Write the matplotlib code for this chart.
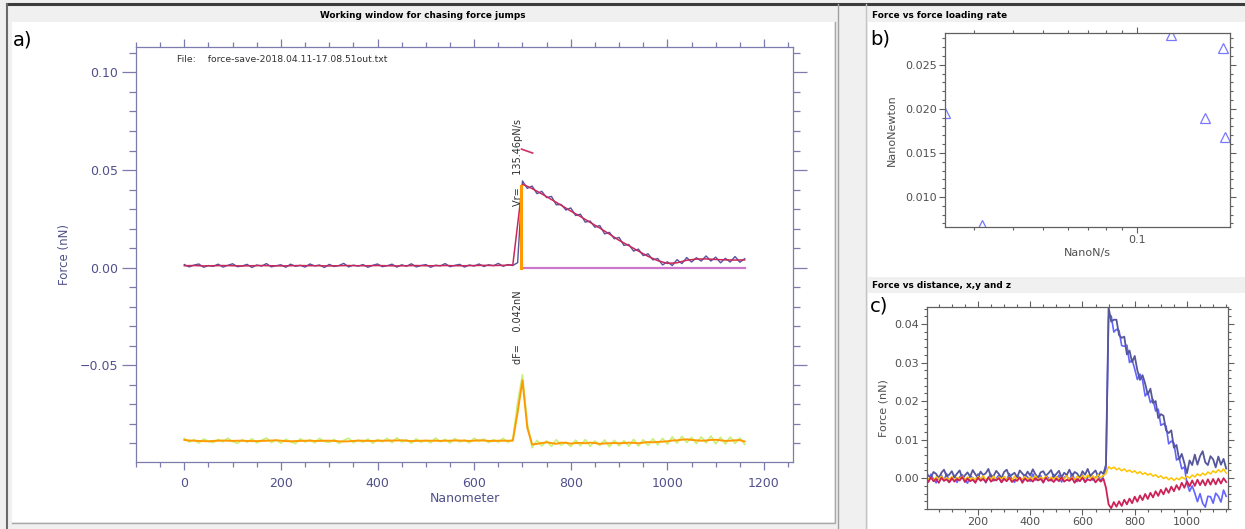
import matplotlib
matplotlib.use("Agg")
import matplotlib.pyplot as plt
from matplotlib.patches import Rectangle
from matplotlib.ticker import MultipleLocator, FuncFormatter, LogLocator, NullFormatter, FixedLocator, FixedFormatter

# ---- panel a) data: force jump window ----
x_a = list(range(0, 1170, 10))
force_raw = [
    0.0016, 0.0004, 0.0013, 0.0019, 0.0002, 0.0011, 0.0007, 0.0018, 0.0003, 0.0012,
    0.0020, 0.0005, 0.0009, 0.0017, 0.0001, 0.0014, 0.0008, 0.0021, 0.0004, 0.0010,
    0.0015, 0.0002, 0.0018, 0.0007, 0.0012, 0.0003, 0.0019, 0.0009, 0.0014, 0.0001,
    0.0017, 0.0006, 0.0011, 0.0022, 0.0004, 0.0013, 0.0008, 0.0016, 0.0002, 0.0012,
    0.0019, 0.0005, 0.0010, 0.0018, 0.0003, 0.0015, 0.0007, 0.0020, 0.0004, 0.0011,
    0.0016, 0.0002, 0.0013, 0.0009, 0.0021, 0.0005, 0.0012, 0.0017, 0.0003, 0.0014,
    0.0008, 0.0019, 0.0006, 0.0015, 0.0010, 0.0022, 0.0007, 0.0016, 0.0011, 0.0026,
    0.0444, 0.0406, 0.0418, 0.0379, 0.0391, 0.0359, 0.0365, 0.0322, 0.0324, 0.0295,
    0.0306, 0.0267, 0.0274, 0.0233, 0.0239, 0.0207, 0.0216, 0.0173, 0.0181, 0.0148,
    0.0155, 0.0114, 0.0119, 0.0085, 0.0095, 0.0062, 0.0071, 0.0040, 0.0047, 0.0014,
    0.0030, 0.0011, 0.0041, 0.0021, 0.0052, 0.0029, 0.0051, 0.0034, 0.0060, 0.0034,
    0.0054, 0.0025, 0.0048, 0.0029, 0.0057, 0.0028, 0.0046]

x_smooth = list(range(0, 1170, 20))
force_smooth = [
    0.0010, 0.0011, 0.0009, 0.0010, 0.0011, 0.0010, 0.0009, 0.0010, 0.0011, 0.0010,
    0.0009, 0.0010, 0.0011, 0.0010, 0.0010, 0.0009, 0.0010, 0.0011, 0.0010, 0.0010,
    0.0011, 0.0010, 0.0009, 0.0010, 0.0011, 0.0010, 0.0010, 0.0011, 0.0010, 0.0010,
    0.0011, 0.0012, 0.0011, 0.0012, 0.0014,
    0.0428, 0.0405, 0.0378, 0.0349, 0.0320, 0.0290, 0.0262, 0.0232, 0.0203, 0.0172,
    0.0140, 0.0113, 0.0085, 0.0058, 0.0036, 0.0022, 0.0025, 0.0038, 0.0044, 0.0045,
    0.0042, 0.0040, 0.0039, 0.0040]

dforce_smooth = [
    -0.0882, -0.0885, -0.0886, -0.0887, -0.0888, -0.0889, -0.0887, -0.0886, -0.0885, -0.0886,
    -0.0887, -0.0886, -0.0886, -0.0887, -0.0888, -0.0888, -0.0887, -0.0886, -0.0885, -0.0884,
    -0.0886, -0.0888, -0.0889, -0.0888, -0.0887, -0.0886, -0.0886, -0.0887, -0.0887, -0.0886,
    -0.0886, -0.0887, -0.0889, -0.0890, -0.0889, -0.0887, -0.0886, -0.0886, -0.0887, -0.0887,
    -0.0886, -0.0886, -0.0886, -0.0885, -0.0885, -0.0884, -0.0886, -0.0888, -0.0887, -0.0886,
    -0.0886, -0.0886, -0.0886, -0.0887, -0.0886, -0.0886, -0.0885, -0.0885, -0.0886, -0.0887,
    -0.0886, -0.0884, -0.0885, -0.0887, -0.0887, -0.0886, -0.0886, -0.0886,
    -0.0886, -0.0740, -0.0577, -0.0820, -0.0905,
    -0.0902, -0.0898, -0.0894, -0.0898, -0.0902, -0.0896, -0.0897, -0.0901, -0.0898, -0.0897,
    -0.0899, -0.0896, -0.0898, -0.0902, -0.0900, -0.0899, -0.0898, -0.0899, -0.0898, -0.0896,
    -0.0897, -0.0899, -0.0896, -0.0893, -0.0894, -0.0892, -0.0891, -0.0889, -0.0885, -0.0884,
    -0.0881, -0.0879, -0.0882, -0.0884, -0.0886, -0.0885, -0.0882, -0.0881, -0.0884, -0.0887,
    -0.0886, -0.0884, -0.0883, -0.0890]

dforce_raw = [
    -0.0874, -0.0893, -0.0880, -0.0898, -0.0877, -0.0889, -0.0896, -0.0879, -0.0892, -0.0873,
    -0.0890, -0.0899, -0.0881, -0.0894, -0.0876, -0.0897, -0.0884, -0.0872, -0.0895, -0.0882,
    -0.0899, -0.0878, -0.0891, -0.0901, -0.0876, -0.0893, -0.0881, -0.0897, -0.0874, -0.0890,
    -0.0895, -0.0879, -0.0900, -0.0884, -0.0873, -0.0896, -0.0882, -0.0894, -0.0877, -0.0899,
    -0.0880, -0.0892, -0.0874, -0.0896, -0.0871, -0.0893, -0.0881, -0.0899, -0.0876, -0.0894,
    -0.0883, -0.0897, -0.0872, -0.0891, -0.0879, -0.0898, -0.0875, -0.0893, -0.0882, -0.0897,
    -0.0873, -0.0890, -0.0877, -0.0896, -0.0880, -0.0894, -0.0874, -0.0895,
    -0.0878, -0.0690, -0.0548, -0.0795, -0.0922,
    -0.0884, -0.0913, -0.0887, -0.0915, -0.0881, -0.0909, -0.0893, -0.0916, -0.0883, -0.0912,
    -0.0880, -0.0915, -0.0887, -0.0911, -0.0882, -0.0917, -0.0884, -0.0912, -0.0886, -0.0914,
    -0.0879, -0.0913, -0.0881, -0.0910, -0.0876, -0.0907, -0.0874, -0.0904, -0.0866, -0.0898,
    -0.0864, -0.0895, -0.0869, -0.0901, -0.0866, -0.0897, -0.0862, -0.0902, -0.0868, -0.0903,
    -0.0867, -0.0899, -0.0872, -0.0905]

jump_x = 696
jump_df = 0.042
rate_seg_x = [698, 721]
rate_seg_y = [0.0607, 0.0587]
file_name = "force-save-2018.04.11-17.08.51out.txt"

# ---- panel b) data: force vs loading rate ----
rate = [0.0243, 0.0319, 0.129, 0.166, 0.189, 0.192]
force_peak = [0.0195, 0.0068, 0.0284, 0.0190, 0.0269, 0.0168]

# ---- panel c) data: force vs distance ----
x_c = list(range(0, 1160, 10))
f_total = [
    0.0019, 0.0006, 0.0003, 0.0016, 0.0011, -0.0001, 0.0014, 0.0022, 0.0005, 0.0009,
    0.0018, 0.0002, 0.0012, 0.0020, 0.0000, 0.0007, 0.0015, 0.0004, 0.0021, 0.0010,
    0.0001, 0.0017, 0.0008, 0.0013, 0.0024, 0.0003, 0.0006, 0.0019, 0.0011, 0.0000,
    0.0016, 0.0022, 0.0005, 0.0009, 0.0014, 0.0002, 0.0020, 0.0012, 0.0004, 0.0017,
    0.0007, 0.0023, 0.0010, 0.0001, 0.0015, 0.0018, 0.0006, 0.0013, 0.0021, 0.0003,
    0.0011, 0.0019, 0.0002, 0.0014, 0.0008, 0.0022, 0.0005, 0.0016, 0.0012, 0.0000,
    0.0018, 0.0009, 0.0024, 0.0006, 0.0013, 0.0020, 0.0004, 0.0017, 0.0011, 0.0035,
    0.0443, 0.0406, 0.0411, 0.0411, 0.0371, 0.0364, 0.0367, 0.0321, 0.0331, 0.0301,
    0.0317, 0.0280, 0.0255, 0.0267, 0.0245, 0.0217, 0.0232, 0.0195, 0.0200, 0.0156,
    0.0166, 0.0162, 0.0124, 0.0117, 0.0124, 0.0079, 0.0086, 0.0048, 0.0063, 0.0039,
    0.0013, 0.0046, 0.0034, 0.0061, 0.0035, 0.0057, 0.0070, 0.0041, 0.0034, 0.0057,
    0.0049, 0.0028, 0.0056, 0.0035, 0.0050, 0.0025]
f_x = [
    0.0006, -0.0009, 0.0010, -0.0003, -0.0012, 0.0004, 0.0008, -0.0006, 0.0012, -0.0010,
    -0.0002, 0.0007, -0.0011, 0.0003, 0.0009, -0.0005, -0.0013, 0.0006, 0.0001, -0.0008,
    0.0011, -0.0004, 0.0005, -0.0012, 0.0002, 0.0010, -0.0007, -0.0001, 0.0008, -0.0010,
    0.0004, -0.0006, 0.0012, -0.0003, -0.0011, 0.0006, 0.0000, -0.0009, 0.0009, 0.0003,
    -0.0008, 0.0011, -0.0005, -0.0002, 0.0007, -0.0012, 0.0005, 0.0001, -0.0007, 0.0010,
    -0.0004, 0.0008, -0.0010, 0.0002, 0.0006, -0.0006, 0.0012, -0.0003, -0.0009, 0.0004,
    0.0009, -0.0011, 0.0003, 0.0007, -0.0005, 0.0001, 0.0010, -0.0008, 0.0006, 0.0025,
    0.0417, 0.0421, 0.0379, 0.0386, 0.0383, 0.0344, 0.0342, 0.0345, 0.0300, 0.0307,
    0.0283, 0.0256, 0.0270, 0.0254, 0.0213, 0.0223, 0.0196, 0.0204, 0.0174, 0.0179,
    0.0137, 0.0141, 0.0135, 0.0089, 0.0096, 0.0091, 0.0047, 0.0053, 0.0024, 0.0029,
    -0.0014, -0.0034, -0.0020, -0.0039, -0.0061, -0.0040, -0.0065, -0.0075, -0.0047, -0.0048,
    -0.0065, -0.0039, -0.0047, -0.0062, -0.0031, -0.0047]
f_y = [
    0.0004, -0.0003, 0.0002, -0.0005, 0.0003, -0.0002, 0.0005, -0.0004, 0.0001, -0.0003,
    0.0004, -0.0006, 0.0002, -0.0002, 0.0005, -0.0004, 0.0003, -0.0003, 0.0001, -0.0005,
    0.0004, -0.0002, 0.0006, -0.0004, 0.0002, -0.0003, 0.0005, -0.0005, 0.0003, -0.0002,
    0.0004, -0.0004, 0.0002, -0.0006, 0.0005, -0.0003, 0.0001, -0.0002, 0.0004, -0.0005,
    0.0003, -0.0003, 0.0006, -0.0004, 0.0002, -0.0002, 0.0005, -0.0005, 0.0003, -0.0003,
    0.0004, -0.0004, 0.0002, -0.0002, 0.0006, -0.0005, 0.0003, -0.0003, 0.0005, -0.0002,
    0.0007, -0.0001, 0.0008, 0.0000, 0.0006, -0.0002, 0.0009, 0.0001, 0.0007, 0.0012,
    0.0030, 0.0024, 0.0029, 0.0022, 0.0026, 0.0019, 0.0024, 0.0017, 0.0021, 0.0015,
    0.0019, 0.0012, 0.0017, 0.0010, 0.0014, 0.0008, 0.0012, 0.0005, 0.0009, 0.0002,
    0.0006, -0.0001, 0.0003, -0.0004, 0.0001, -0.0006, 0.0000, -0.0004, 0.0003, -0.0002,
    0.0005, 0.0000, 0.0008, 0.0003, 0.0011, 0.0006, 0.0013, 0.0008, 0.0016, 0.0011,
    0.0019, 0.0014, 0.0022, 0.0016, 0.0024, 0.0013]
f_z = [
    -0.0001, -0.0010, 0.0002, -0.0008, -0.0002, -0.0012, 0.0001, -0.0007, -0.0003, -0.0011,
    0.0000, -0.0009, -0.0002, -0.0006, 0.0003, -0.0010, -0.0001, -0.0008, -0.0004, -0.0012,
    0.0001, -0.0007, -0.0002, -0.0010, 0.0002, -0.0009, -0.0003, -0.0006, 0.0000, -0.0011,
    -0.0002, -0.0008, 0.0001, -0.0010, -0.0004, -0.0007, 0.0002, -0.0012, -0.0001, -0.0008,
    -0.0003, -0.0009, 0.0000, -0.0006, -0.0002, -0.0011, 0.0001, -0.0007, -0.0003, -0.0010,
    -0.0001, -0.0008, 0.0002, -0.0009, -0.0004, -0.0007, 0.0000, -0.0012, -0.0002, -0.0008,
    0.0001, -0.0010, -0.0003, -0.0006, 0.0000, -0.0011, -0.0002, -0.0009, -0.0001, -0.0025,
    -0.0068, -0.0078, -0.0062, -0.0074, -0.0060, -0.0072, -0.0056, -0.0068, -0.0053, -0.0065,
    -0.0048, -0.0061, -0.0045, -0.0057, -0.0041, -0.0054, -0.0038, -0.0050, -0.0034, -0.0046,
    -0.0030, -0.0042, -0.0026, -0.0038, -0.0022, -0.0034, -0.0018, -0.0030, -0.0012, -0.0025,
    -0.0008, -0.0021, -0.0006, -0.0020, -0.0004, -0.0018, -0.0005, -0.0019, -0.0003, -0.0017,
    -0.0002, -0.0016, -0.0001, -0.0014, 0.0000, -0.0010]

W, H = 1245, 529
fig = plt.figure(figsize=(W / 100, H / 100), dpi=100, facecolor="#f0f0f0")


def box(l, t, r, b):
    # pixel box (left, top, right, bottom) -> figure fraction rect
    return [l / W, (H - b) / H, (r - l) / W, (b - t) / H]


# GUI frame drawn in pixel coordinates
bg = fig.add_axes([0, 0, 1, 1])
bg.set_xlim(0, W)
bg.set_ylim(H, 0)
bg.axis("off")
bg.add_patch(Rectangle((12, 22), 822, 500, facecolor="white", edgecolor="none"))
bg.add_patch(Rectangle((868, 22), 377, 255, facecolor="white", edgecolor="none"))
bg.add_patch(Rectangle((868, 293), 377, 236, facecolor="white", edgecolor="none"))
bg.plot([7, 1243], [4, 4], color="#3c3c3c", lw=2.2)
bg.plot([7, 7], [4, 529], color="#6a6a6a", lw=1.5)
bg.plot([12, 835, 835], [523, 523, 22], color="#a8a8a8", lw=1)
bg.plot([838, 838], [4, 529], color="#a0a0a0", lw=1)
bg.plot([866, 866], [4, 529], color="#c4c4c4", lw=1)
bg.text(423, 15, "Working window for chasing force jumps", fontsize=6.4, fontweight="bold",
        ha="center", va="center")
bg.text(872, 15, "Force vs force loading rate", fontsize=6.4, fontweight="bold", va="center")
bg.text(872, 286, "Force vs distance, x,y and z", fontsize=6.4, fontweight="bold", va="center")
bg.text(13, 40, "a)", fontsize=14, va="center")
bg.text(870, 39, "b)", fontsize=14, va="center")
bg.text(870, 306, "c)", fontsize=14, va="center")

minus = FuncFormatter(lambda v, p: ("%.2f" % v).replace("-", "\u2212"))

# ---- panel a ----
acol = "#7c7cac"
tcol = "#50508c"
ax = fig.add_axes(box(136, 47, 793, 462))
ax.plot(x_a, force_raw, color="#5454a0", lw=1.0)
ax.plot(x_smooth, force_smooth, color="#c8285a", lw=1.1)
ax.plot([jump_x, x_a[-1]], [0, 0], color="#cc77cc", lw=1.6)
ax.plot([jump_x, jump_x], [0, jump_df], color="#ff9900", lw=2.2)
ax.plot(rate_seg_x, rate_seg_y, color="#d03060", lw=1.2)
ax.plot(x_a, dforce_raw, color="#c4f27a", lw=1.2)
ax.plot(x_a, dforce_smooth, color="#ff9a00", lw=1.4)
ax.set_xlim(-100, 1260)
ax.set_ylim(-0.0995, 0.113)
ax.xaxis.set_major_locator(MultipleLocator(200))
ax.xaxis.set_minor_locator(MultipleLocator(50))
ax.yaxis.set_major_locator(MultipleLocator(0.05))
ax.yaxis.set_minor_locator(MultipleLocator(0.01))
ax.yaxis.set_major_formatter(minus)
ax.tick_params(which="both", direction="out", top=True, right=True, color=acol,
               labelcolor=tcol, labelsize=9, width=0.9)
ax.tick_params(axis="y", which="major", length=10, pad=3)
ax.tick_params(axis="y", which="minor", length=5)
ax.tick_params(axis="x", which="major", length=6, pad=5)
ax.tick_params(axis="x", which="minor", length=3.5)
for s in ax.spines.values():
    s.set_color(acol)
    s.set_linewidth(0.9)
ax.set_xlabel("Nanometer", color=tcol, fontsize=9, labelpad=1)
ax.set_ylabel("Force (nN)", color=tcol, fontsize=8.5, labelpad=6)
ax.text(-15, 0.1065, "File:    " + file_name, fontsize=6.7, color="#303030", va="center")
ax.text(690, 0.0318, "Vr=    135.46pN/s", rotation=90, fontsize=7, color="#303030",
        ha="center", va="bottom")
ax.text(690, -0.0495, "dF=    0.042nN", rotation=90, fontsize=7, color="#303030",
        ha="center", va="bottom")

# ---- panel b ----
gcol = "#606060"
bx = fig.add_axes(box(945, 33, 1230, 227))
bx.plot(rate, force_peak, ls="none", marker="^", mfc="none", mec="#7878ff", ms=7, mew=0.9)
bx.set_xscale("log")
bx.set_xlim(0.0243, 0.199)
bx.set_ylim(0.0066, 0.0286)
bx.xaxis.set_major_locator(FixedLocator([0.1]))
bx.xaxis.set_major_formatter(FixedFormatter(["0.1"]))
bx.xaxis.set_minor_locator(LogLocator(base=10, subs=range(2, 10)))
bx.xaxis.set_minor_formatter(NullFormatter())
bx.yaxis.set_major_locator(MultipleLocator(0.005))
bx.yaxis.set_minor_locator(MultipleLocator(0.001))
bx.yaxis.set_major_formatter(FuncFormatter(lambda v, p: "%.3f" % v))
bx.tick_params(which="both", direction="out", top=True, right=True, color=gcol,
               labelcolor="#505050", labelsize=8, width=0.8)
bx.tick_params(which="major", length=4, pad=2)
bx.tick_params(which="minor", length=2)
for s in bx.spines.values():
    s.set_color(gcol)
    s.set_linewidth(0.9)
bx.set_xlabel("NanoN/s", color="#505050", fontsize=8, labelpad=2)
bx.set_ylabel("NanoNewton", color="#505050", fontsize=8, labelpad=6)

# ---- panel c ----
cx = fig.add_axes(box(927, 307, 1228, 509))
cx.plot(x_c, f_x, color="#6464ff", lw=1.2)
cx.plot(x_c, f_total, color="#56569a", lw=1.3)
cx.plot(x_c, f_y, color="#ffc400", lw=1.1)
cx.plot(x_c, f_z, color="#cc2258", lw=1.3)
cx.set_xlim(5, 1157)
cx.set_ylim(-0.008, 0.0444)
cx.xaxis.set_major_locator(MultipleLocator(200))
cx.xaxis.set_minor_locator(MultipleLocator(50))
cx.yaxis.set_major_locator(MultipleLocator(0.01))
cx.yaxis.set_minor_locator(MultipleLocator(0.002))
cx.yaxis.set_major_formatter(FuncFormatter(lambda v, p: "%.2f" % (0.0 if abs(v) < 1e-9 else v)))
cx.tick_params(which="both", direction="out", top=True, right=True, color=gcol,
               labelcolor="#505050", labelsize=8, width=0.8)
cx.tick_params(which="major", length=4, pad=2)
cx.tick_params(which="minor", length=2)
for s in cx.spines.values():
    s.set_color(gcol)
    s.set_linewidth(0.9)
cx.set_ylabel("Force (nN)", color="#505050", fontsize=8, labelpad=4)

fig.savefig("out.png", dpi=100, facecolor=fig.get_facecolor())
